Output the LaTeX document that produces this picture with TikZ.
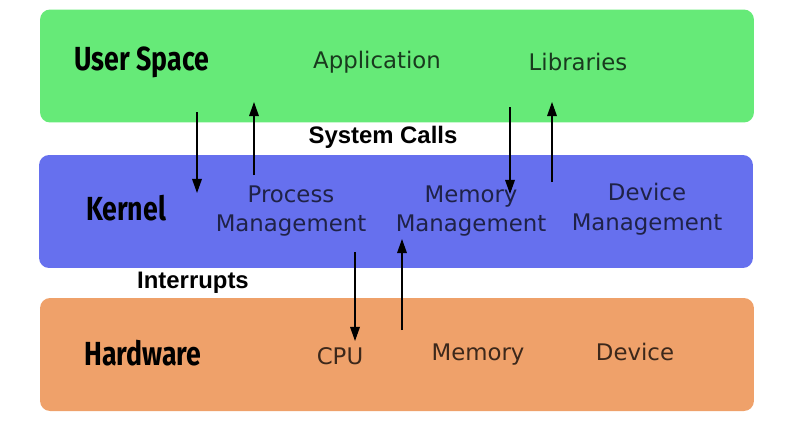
\documentclass[tikz,border=0pt]{standalone}
\usepackage{fontspec}
\setmainfont{DejaVu Sans}
\newfontfamily\handfont[FakeStretch=0.8]{Fira Sans}
\newfontfamily\labelfont{Liberation Sans}
\usetikzlibrary{arrows.meta,positioning}
\definecolor{cuser}{HTML}{66EA78}
\definecolor{ckern}{HTML}{6670EE}
\definecolor{chard}{HTML}{EFA16A}

\begin{document}
\begin{tikzpicture}[x=0.02cm, y=-0.02cm,
      layer/.style={rounded corners=0.2cm, minimum width=14.28cm, minimum height=2.26cm, inner sep=0pt},
      title/.style={font=\handfont\bfseries\fontsize{19}{20}\selectfont},
      part/.style={font=\fontsize{13}{17}\selectfont, align=center},
      call/.style={font=\labelfont\bfseries\fontsize{13.6}{16}\selectfont},
      arr/.style={-{Triangle[width=5.5pt,length=8pt]}, line width=0.7pt}
    ]
    \useasboundingbox (0,0) rectangle (794,424);
    % layers
    \node[layer, fill=cuser] (user) at (397,66) {};
    \node[layer, fill=ckern] (kern) at (396,211.5) {};
    \node[layer, fill=chard] (hard) at (397,354.5) {};
    % layer titles
    \node[title] (us) at (142,62) {User Space};
    \node[title] (kl) at (126,208) {Kernel};
    \node[title] (hw) at (143,353) {Hardware};
    % parts of each layer
    \node[part, text=black!75!cuser] (app) at (377,62) {Application};
    \node[part, text=black!75!cuser] (lib) at (578,62) {Libraries};
    \node[part, text=black!70!ckern] (pm) at (291,211) {Process\\Management};
    \node[part, text=black!70!ckern] (mm) at (471,211) {Memory\\Management};
    \node[part, text=black!70!ckern] (dm) at (647,209) {Device\\Management};
    \node[part, text=black!75!chard] (cpu) at (340,356) {CPU};
    \node[part, text=black!75!chard] (mem) at (478,355) {Memory};
    \node[part, text=black!75!chard] (dev) at (635,352) {Device};
    % labels between layers
    \node[call] (sc) at (383,137) {System Calls};
    \node[call] (irq) at (193,283) {Interrupts};
    % arrow ends
    \coordinate (a1) at (197,112); \coordinate (b1) at (197,193);
    \coordinate (a2) at (254,175); \coordinate (b2) at (254,102);
    \coordinate (a3) at (510,107); \coordinate (b3) at (510,194);
    \coordinate (a4) at (552,182); \coordinate (b4) at (552,102);
    \coordinate (a5) at (355,252); \coordinate (b5) at (355,341);
    \coordinate (a6) at (402,330); \coordinate (b6) at (402,239);
    \draw[arr] (a1) -- (b1); \draw[arr] (a2) -- (b2);
    \draw[arr] (a3) -- (b3); \draw[arr] (a4) -- (b4);
    \draw[arr] (a5) -- (b5); \draw[arr] (a6) -- (b6);
  \end{tikzpicture}
\end{document}
